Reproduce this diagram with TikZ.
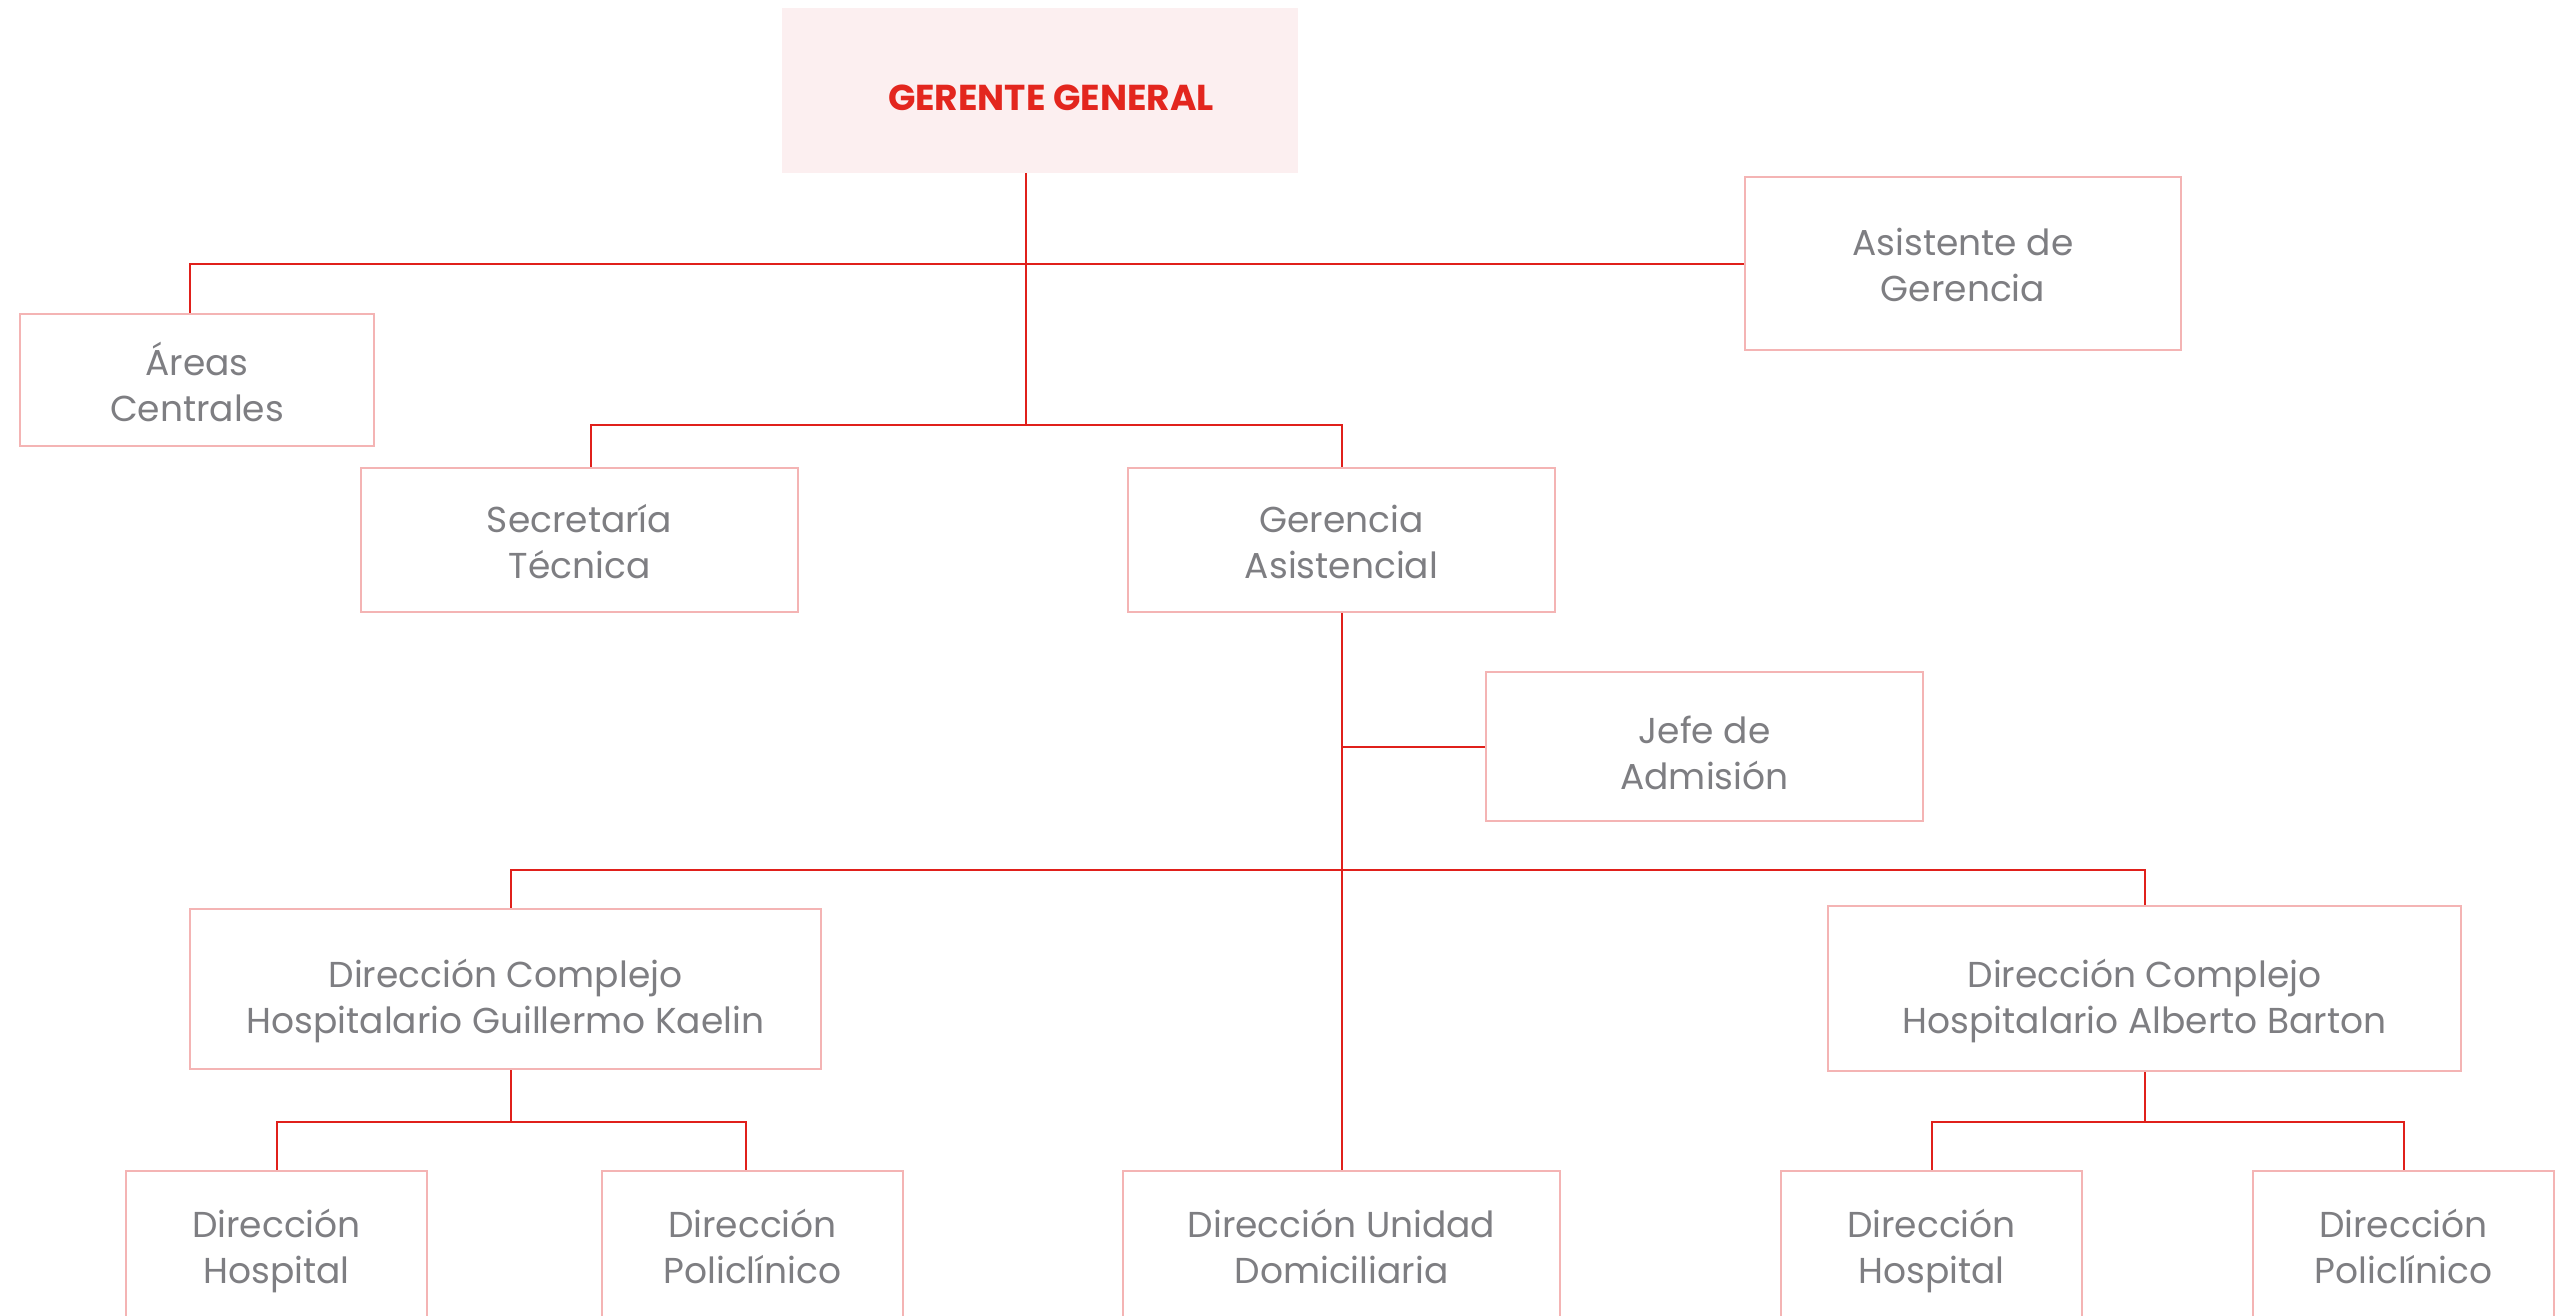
\documentclass[tikz,border=0pt]{standalone}
\usepackage{fontspec}
\setmainfont{Poppins}
\usetikzlibrary{calc}
\definecolor{linered}{HTML}{E0201B}
\definecolor{boxpink}{HTML}{F4B4B4}
\definecolor{txtgray}{HTML}{7E7E82}
\definecolor{titlered}{HTML}{E3261E}
\definecolor{titlefill}{HTML}{FCEFF0}
% #1 name, #2 centre, #3 width, #4 height, #5 text drop, #6 first line, #7 second line
\newcommand\orgbox[7]{%
  \node[box,minimum width=#3,minimum height=#4] (#1) at (#2) {};
  \node[txt] (#1-t) at ([yshift=-#5]#1.center)
    {\begin{tabular}{@{}c@{}}#6\\#7\end{tabular}};}
\begin{document}
\begin{tikzpicture}[x=1pt,y=-1pt,
  box/.style={draw=boxpink,line width=2.5pt,fill=white,inner sep=0pt},
  txt/.style={text=txtgray,inner sep=0pt,font=\fontsize{36}{46}\selectfont},
  conn/.style={draw=linered,line width=2pt}]
\path[use as bounding box] (0,0) rectangle (2564,1315);
\clip (0,0) rectangle (2564,1315);
% nodes
\node[fill=titlefill,minimum width=516pt,minimum height=165pt,inner sep=0pt] (gg) at (1040,90.5) {};
\node[text=titlered,inner sep=0pt,font=\fontsize{36}{40}\selectfont\bfseries]
  (gg-t) at ([xshift=11pt,yshift=-7.5pt]gg.center) {GERENTE GENERAL};
\orgbox{ag}{1963,263.5}{436pt}{173pt}{5.5pt}{Asistente de}{Gerencia}
\orgbox{ac}{197,380}{354pt}{132pt}{8.5pt}{Áreas}{Centrales}
\orgbox{st}{579.5,540}{437pt}{144pt}{6.5pt}{Secretaría}{Técnica}
\orgbox{ga}{1341.5,540}{427pt}{144pt}{6.5pt}{Gerencia}{Asistencial}
\orgbox{ja}{1704.5,746.5}{437pt}{149pt}{10.5pt}{Jefe de}{Admisión}
\orgbox{dk}{505.5,989}{631pt}{160pt}{12pt}{Dirección Complejo}{Hospitalario Guillermo Kaelin}
\orgbox{db}{2144.5,988.5}{633pt}{165pt}{12.5pt}{Dirección Complejo}{Hospitalario Alberto Barton}
\orgbox{dh1}{276.5,1251}{301pt}{160pt}{0pt}{Dirección}{Hospital}
\orgbox{dp1}{752.5,1251}{301pt}{160pt}{0pt}{Dirección}{Policlínico}
\orgbox{du}{1341.5,1251}{437pt}{160pt}{0pt}{Dirección Unidad}{Domiciliaria}
\orgbox{dh2}{1931.5,1251}{301pt}{160pt}{0pt}{Dirección}{Hospital}
\orgbox{dp2}{2403.5,1251}{301pt}{160pt}{0pt}{Dirección}{Policlínico}
% bar levels
\coordinate (b1) at (0,425);
\coordinate (b2) at (0,870);
\coordinate (b3) at (0,1122);
\coordinate (ggout) at ($(gg.south)+(-14,0)$);
% connectors
\draw[conn] ($(ac.north)+(-7,0)$) |- (ag.west);
\draw[conn] (ggout) -- (ggout |- b1);
\draw[conn] ($(st.north)+(11,0)$) |- (ga.north |- b1) -- (ga.north);
\draw[conn] (ga.south) -- (du.north);
\draw[conn] (ja.west) -- (ga.south |- ja.west);
\draw[conn] ($(dk.north)+(5,0)$) |- (db.north |- b2) -- (db.north);
\draw[conn] ($(dk.south)+(5,0)$) -- ($(dk.south |- b3)+(5,0)$);
\draw[conn] (dh1.north) |- ($(dp1.north |- b3)+(-7,0)$) -- ($(dp1.north)+(-7,0)$);
\draw[conn] (db.south) -- (db.south |- b3);
\draw[conn] (dh2.north) |- (dp2.north |- b3) -- (dp2.north);
\end{tikzpicture}
\end{document}
